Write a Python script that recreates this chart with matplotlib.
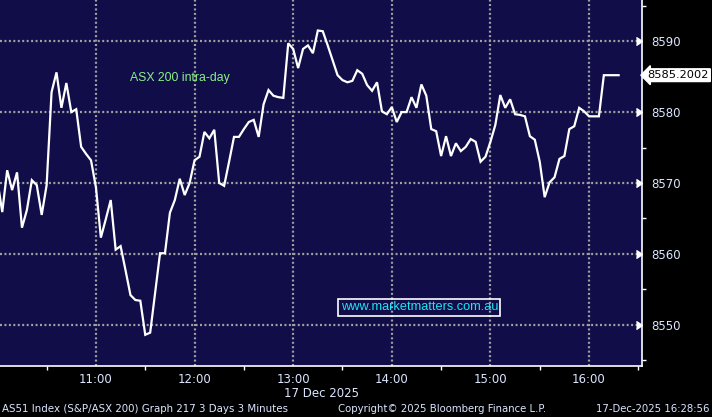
"""
ASX 200 intra-day chart (Bloomberg style)
"""
import pandas as pd
import numpy as np
import matplotlib
matplotlib.use("Agg")
import matplotlib.pyplot as plt
import matplotlib.dates as mdates
from matplotlib.ticker import MultipleLocator

# 3-minute bars, 17 Dec 2025, from 10:00
start_time = "2025-12-17 10:00"
values = [
    8570.4, 8565.9, 8571.8, 8569.0, 8571.5, 8563.7, 8566.2, 8570.4, 8569.7, 8565.5,
    8569.7, 8582.8, 8585.6, 8580.6, 8584.1, 8580.0, 8580.4, 8575.1, 8574.1, 8573.2,
    8569.4, 8562.3, 8564.9, 8567.6, 8560.6, 8561.1, 8557.7, 8554.2, 8553.5, 8553.4,
    8548.6, 8548.9, 8554.5, 8560.1, 8560.1, 8565.8, 8567.6, 8570.6, 8568.3, 8570.0,
    8573.2, 8573.7, 8577.2, 8576.3, 8577.5, 8570.0, 8569.6, 8573.0, 8576.5, 8576.5,
    8577.6, 8578.6, 8578.9, 8576.5, 8581.1, 8583.1, 8582.3, 8582.1, 8582.0, 8589.7,
    8588.9, 8586.2, 8588.9, 8589.4, 8588.3, 8591.5, 8591.4, 8589.4, 8587.3, 8585.2,
    8584.5, 8584.2, 8584.4, 8585.9, 8585.4, 8583.8, 8583.0, 8584.2, 8580.1, 8579.7,
    8580.7, 8578.6, 8580.0, 8580.0, 8582.1, 8580.6, 8583.9, 8582.3, 8577.6, 8577.3,
    8573.8, 8576.6, 8573.8, 8575.6, 8574.5, 8575.1, 8576.2, 8575.8, 8573.0, 8573.7,
    8575.8, 8578.2, 8582.4, 8580.6, 8581.8, 8579.7, 8579.6, 8579.4, 8576.6, 8576.1,
    8573.0, 8568.0, 8570.1, 8570.8, 8573.4, 8573.8, 8577.6, 8578.0, 8580.6, 8580.1,
    8579.4, 8579.4, 8579.4, 8585.2, 8585.2, 8585.2, 8585.2,
]
last_price = "8585.2002"
y_ticks = [8550, 8560, 8570, 8580, 8590]
x_range = ("2025-12-17 10:01:38", "2025-12-17 16:32:13")
y_range = (8544.2, 8595.8)

BG = "#100d48"
LABEL = "#dde6ff"

times = pd.date_range(start_time, periods=len(values), freq="3min")

fig = plt.figure(figsize=(7.12, 4.17), dpi=100, facecolor="black")
ax = fig.add_axes([0, 51 / 417, 642 / 712, 366 / 417])
ax.set_facecolor(BG)

ax.plot(times, values, color="white", linewidth=1.6, zorder=3, solid_joinstyle="miter")

ax.set_xlim(pd.Timestamp(x_range[0]), pd.Timestamp(x_range[1]))
ax.set_ylim(*y_range)

# 坐标轴
for s in ["left", "top"]:
    ax.spines[s].set_visible(False)
for s in ["right", "bottom"]:
    ax.spines[s].set_color("white")
    ax.spines[s].set_linewidth(1.2)

ax.yaxis.tick_right()
ax.set_yticks(y_ticks)
ax.yaxis.set_minor_locator(MultipleLocator(5))
ax.tick_params(axis="y", which="major", length=0, pad=7, labelsize=8.5, labelcolor=LABEL)
ax.tick_params(axis="y", which="minor", length=3, width=1, color="white", direction="out")
ax.plot([1] * len(y_ticks), y_ticks, marker=5, color="white", markersize=6,
        linestyle="none", transform=ax.get_yaxis_transform(), clip_on=False, zorder=4)

ax.xaxis.set_major_locator(mdates.HourLocator())
ax.xaxis.set_minor_locator(mdates.MinuteLocator(byminute=[30]))
ax.xaxis.set_major_formatter(mdates.DateFormatter("%H:%M"))
ax.tick_params(axis="x", which="major", length=0, pad=5, labelsize=8.5, labelcolor=LABEL)
ax.tick_params(axis="x", which="minor", length=3, width=1, color="white", direction="out")

ax.grid(True, which="major", color="#a0a0a0", linewidth=1.6, linestyle=(0, (0.9, 1.1)))
ax.set_axisbelow(True)

ax.text(0.5, -0.075, "17 Dec 2025", transform=ax.transAxes, ha="center", va="center",
        fontsize=8.5, color=LABEL)

ax.text(0.203, 0.787, "ASX 200 intra-day", transform=ax.transAxes, ha="left", va="center",
        fontsize=8.8, color="#8af08a", family="Liberation Sans")
ax.text(0.653, 0.161, "www.marketmatters.com.au", transform=ax.transAxes, ha="center",
        va="center", fontsize=9.2, color="#1ee6f5", family="Liberation Sans",
        bbox=dict(boxstyle="square,pad=0.2", fc="none", ec="white", lw=1.2))

ax.annotate(last_price, xy=(1.0, float(last_price)), xycoords=("axes fraction", "data"),
            xytext=(4, 0), textcoords="offset points", ha="left", va="center",
            fontsize=8.2, color="black", annotation_clip=False,
            bbox=dict(boxstyle="larrow,pad=0.12", fc="white", ec="white"))

# 底部信息
fig.text(2 / 712, 8 / 417, "AS51 Index (S&P/ASX 200) Graph 217 3 Days 3 Minutes",
         ha="left", va="center", fontsize=7.4, color=LABEL)
fig.text(338 / 712, 8 / 417, "Copyright© 2025 Bloomberg Finance L.P.",
         ha="left", va="center", fontsize=7.3, color=LABEL)
fig.text(710 / 712, 8 / 417, "17-Dec-2025 16:28:56",
         ha="right", va="center", fontsize=7.3, color=LABEL)

fig.savefig("out.png", dpi=100, facecolor="black")
plt.close(fig)
